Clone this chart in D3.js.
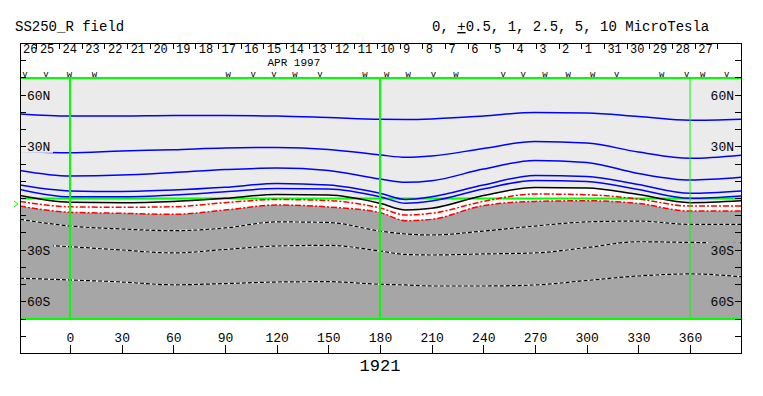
<!DOCTYPE html>
<html>
<head>
<meta charset="utf-8">
<script src="https://cdn.jsdelivr.net/npm/d3@7"></script>
<style>
body { margin: 0; background: #fff; }
text { font-family: "Liberation Mono", monospace; fill: #000; }
</style>
</head>
<body>
<svg id="chart" width="763" height="396"></svg>
<script>
var lonPts = [-29, 0, 30, 60, 90, 120, 150, 180, 195, 210, 240, 270, 300, 330, 360, 389.6];

// contour latitudes (deg), one array per level
var pos10  = [49.1, 47.9, 47.9, 48.2, 48.2, 47.9, 47.0, 46.0, 45.9, 46.2, 47.9, 49.9, 49.6, 47.6, 45.4, 46.0];
var pos5   = [27.3, 26.6, 27.6, 28.3, 29.3, 29.6, 28.5, 25.3, 23.9, 24.7, 29.0, 33.1, 32.2, 27.0, 23.3, 25.1];
var pos2_5 = [16.3, 13.1, 13.6, 15.1, 16.8, 17.7, 16.3, 11.3, 9.4, 10.3, 17.1, 22.1, 20.9, 14.5, 10.7, 12.3];
var pos1   = [7.8, 4.4, 4.1, 4.9, 6.5, 8.7, 7.8, 3.0, -0.6, 1.0, 7.8, 13.4, 12.8, 8.1, 3.0, 4.4];
var pos0_5 = [5.3, 1.0, 1.0, 2.0, 3.9, 5.8, 5.5, 1.0, -2.8, -1.5, 5.5, 10.5, 9.9, 5.2, 0.1, 1.5];
var zero   = [1.7, -2.2, -2.4, -1.7, 0.1, 2.3, 2.0, -2.8, -6.7, -5.7, 1.7, 6.4, 6.1, 2.3, -2.4, -1.3];
var neg0_5 = [-1.7, -4.8, -5.1, -4.8, -2.4, -0.6, -1.2, -5.5, -9.6, -8.6, -1.7, 2.6, 2.2, -0.3, -4.4, -4.4];
var neg1   = [-4.4, -8.0, -8.6, -9.2, -6.7, -3.8, -4.9, -8.2, -12.9, -12.1, -4.1, -1.7, -1.3, -2.9, -7.3, -7.3];
var neg2_5 = [-12.1, -16.0, -17.7, -18.7, -17.1, -13.6, -13.9, -18.9, -20.6, -21.2, -18.9, -16.0, -13.6, -13.1, -15.0, -15.0];
var neg5   = [-26.4, -28.0, -29.9, -31.6, -29.6, -27.6, -27.2, -30.5, -32.5, -32.8, -32.2, -31.6, -28.5, -25.1, -25.5, -25.8];
var neg10  = [-46.3, -47.3, -48.5, -50.1, -49.4, -48.5, -48.3, -49.8, -50.2, -50.8, -50.8, -50.2, -47.6, -45.0, -43.8, -45.4];

// day-of-month labels along the top (time runs right to left)
var dayLabels = ["26","25","24","23","22","21","20","19","18","17","16","15","14","13","12","11",
                 "10","9","8","7","6","5","4","3","2","1","31","30","29","28","27"];
var dayStartLon = -19.2;   // longitude of the 26|25 boundary
var dayStepLon = 13.18;    // degrees per day

// small v / w marks above the plot
var markLon  = [-26.1, -13.9, -0.3, 14.2, 91.9, 106.4, 118.5, 130.6, 145.2, 171.3, 183.9, 196.4,
                211.0, 224.1, 251.6, 263.2, 275.8, 289.3, 303.5, 317.4, 343.6, 358.1, 367.3, 381.3];
var markType = ["v","v","w","w","w","v","v","w","v","w","w","w",
                "v","w","v","v","w","w","w","v","w","v","w","v"];

var lonTicks = [0, 30, 60, 90, 120, 150, 180, 210, 240, 270, 300, 330, 360];
var latLabelVals = [60, 30, -30, -60];
var latLabels = ["60N", "30N", "30S", "60S"];
var greenLons = [0, 180, 360];
var b0Lat = -3.2;

var svg = d3.select("#chart");
var x = d3.scaleLinear().domain([-29, 389.6]).range([20, 741]);
var y = d3.scaleLinear().domain([-90, 90]).range([353.5, 43.5]);
var plotTop = y(70), plotBot = y(-70), plotLeft = x(-29), plotRight = x(389.6);

svg.append("defs").append("clipPath").attr("id", "clip")
    .append("rect").attr("x", plotLeft).attr("y", plotTop)
    .attr("width", plotRight - plotLeft).attr("height", plotBot - plotTop);

svg.append("rect").attr("x", plotLeft).attr("y", plotTop)
    .attr("width", plotRight - plotLeft).attr("height", plotBot - plotTop).attr("fill", "#ebebeb");

var plot = svg.append("g").attr("clip-path", "url(#clip)");
var curve = d3.curveMonotoneX;

var whiteBand = d3.area()
    .x(function(d, i) { return x(lonPts[i]); })
    .y0(function(d, i) { return y(neg1[i]); })
    .y1(function(d, i) { return y(zero[i]); })
    .curve(curve);
plot.append("path").datum(zero).attr("d", whiteBand).attr("fill", "#fff");

var darkBand = d3.area()
    .x(function(d, i) { return x(lonPts[i]); })
    .y0(plotBot)
    .y1(function(d) { return y(d); })
    .curve(curve);
plot.append("path").datum(neg1).attr("d", darkBand).attr("fill", "#a6a6a6");

// equator
plot.append("line").attr("x1", plotLeft).attr("x2", plotRight)
    .attr("y1", y(0)).attr("y2", y(0))
    .attr("stroke", "#00ff00").attr("stroke-width", 2);

var line = d3.line()
    .x(function(d, i) { return x(lonPts[i]); })
    .y(function(d) { return y(d); })
    .curve(curve);

function drawContour(data, color, width, dash) {
    var p = plot.append("path").datum(data).attr("d", line)
        .attr("fill", "none").attr("stroke", color).attr("stroke-width", width);
    if (dash) p.attr("stroke-dasharray", dash);
}

[pos10, pos5, pos2_5, pos1, pos0_5].forEach(function(c) { drawContour(c, "#0000ff", 1.5); });
drawContour(zero, "#000", 1.5);
drawContour(neg0_5, "#ff0000", 1.5, "6,2,2,2");
drawContour(neg1, "#ff0000", 1.5, "6,2,2,2");
[neg2_5, neg5, neg10].forEach(function(c) {
    drawContour(c, "#fff", 1.2);
    drawContour(c, "#000", 1.2, "4,2");
});

// green meridians and plot borders
greenLons.forEach(function(l) {
    svg.append("line").attr("x1", x(l)).attr("x2", x(l))
        .attr("y1", plotTop).attr("y2", plotBot)
        .attr("stroke", "#00ff00").attr("stroke-width", l === 360 ? 1 : 2);
});
[plotTop, plotBot].forEach(function(v) {
    svg.append("line").attr("x1", plotLeft).attr("x2", plotRight)
        .attr("y1", v).attr("y2", v)
        .attr("stroke", "#00ff00").attr("stroke-width", 2);
});

// frame
svg.append("path")
    .attr("d", "M" + plotLeft + "," + y(90) + "H" + plotRight + "V" + y(-90) + "H" + plotLeft + "Z")
    .attr("fill", "none").attr("stroke", "#000").attr("stroke-width", 1)
    .attr("shape-rendering", "crispEdges");

// latitude ticks both sides
var latTicks = d3.range(-80, 81, 10);
var lt = svg.append("g").attr("stroke", "#000").attr("shape-rendering", "crispEdges");
latTicks.forEach(function(t) {
    lt.append("line").attr("x1", plotLeft).attr("x2", plotLeft + 6).attr("y1", y(t)).attr("y2", y(t));
    lt.append("line").attr("x1", plotRight - 6).attr("x2", plotRight).attr("y1", y(t)).attr("y2", y(t));
});

// latitude labels with knocked-out background
latLabelVals.forEach(function(v, i) {
    var bg = v > 0 ? "#ebebeb" : "#a6a6a6";
    svg.append("rect").attr("x", plotLeft + 1).attr("y", y(v) - 8).attr("width", 32).attr("height", 14).attr("fill", bg);
    svg.append("rect").attr("x", plotRight - 33).attr("y", y(v) - 8).attr("width", 32).attr("height", 14).attr("fill", bg);
    svg.append("line").attr("x1", plotLeft).attr("x2", plotLeft + 6).attr("y1", y(v)).attr("y2", y(v))
        .attr("stroke", "#000").attr("shape-rendering", "crispEdges");
    svg.append("line").attr("x1", plotRight - 6).attr("x2", plotRight).attr("y1", y(v)).attr("y2", y(v))
        .attr("stroke", "#000").attr("shape-rendering", "crispEdges");
    svg.append("text").attr("x", plotLeft + 7).attr("y", y(v) + 4.5)
        .style("font-size", "13px").text(latLabels[i]);
    svg.append("text").attr("x", plotRight - 7).attr("y", y(v) + 4.5)
        .attr("text-anchor", "end").style("font-size", "13px").text(latLabels[i]);
});

// B0 marker
svg.append("path")
    .attr("d", "M" + (plotLeft - 6) + "," + (y(b0Lat) - 3) + "L" + (plotLeft - 2) + "," + y(b0Lat) +
               "L" + (plotLeft - 6) + "," + (y(b0Lat) + 3))
    .attr("fill", "none").attr("stroke", "#00ff00").attr("stroke-width", 1);

// longitude axis at the bottom
var xAxis = d3.axisTop(x).tickValues(lonTicks).tickSize(9).tickSizeOuter(0).tickPadding(3);
var gx = svg.append("g").attr("transform", "translate(0," + y(-90) + ")").call(xAxis);
gx.select(".domain").remove();
gx.selectAll("line").attr("stroke", "#000").attr("shape-rendering", "crispEdges");
gx.selectAll("text").style("font-family", "Liberation Mono, monospace").style("font-size", "13px");

svg.append("text").attr("x", x(180)).attr("y", 370.5).attr("text-anchor", "middle")
    .style("font-size", "17px").text("1921");

// day ticks and labels
var dt = svg.append("g");
dayLabels.forEach(function(lab, i) {
    var bx = x(dayStartLon + dayStepLon * i);
    dt.append("line").attr("x1", bx).attr("x2", bx).attr("y1", y(90)).attr("y2", y(90) + 5)
        .attr("stroke", "#000").attr("shape-rendering", "crispEdges");
    var lx = i === 0 ? plotLeft + 3 : x(dayStartLon + dayStepLon * (i - 1)) + 3;
    dt.append("text").attr("x", lx).attr("y", 52.5).style("font-size", "12px").text(lab);
});
svg.append("text").attr("x", x(130)).attr("y", 65.5).attr("text-anchor", "middle")
    .style("font-size", "11px").text("APR 1997");

// v / w marks
markLon.forEach(function(l, i) {
    svg.append("text").attr("x", x(l)).attr("y", 77).attr("text-anchor", "middle")
        .style("font-size", "9px").text(markType[i]);
});

// titles
svg.append("text").attr("x", 15).attr("y", 31).style("font-size", "14px").text("SS250_R field");
var t2 = svg.append("text").attr("x", 432).attr("y", 31).style("font-size", "14px");
t2.append("tspan").text("0, ");
t2.append("tspan").style("text-decoration", "underline").text("+");
t2.append("tspan").text("0.5, 1, 2.5, 5, 10 MicroTesla");
</script>
</body>
</html>
